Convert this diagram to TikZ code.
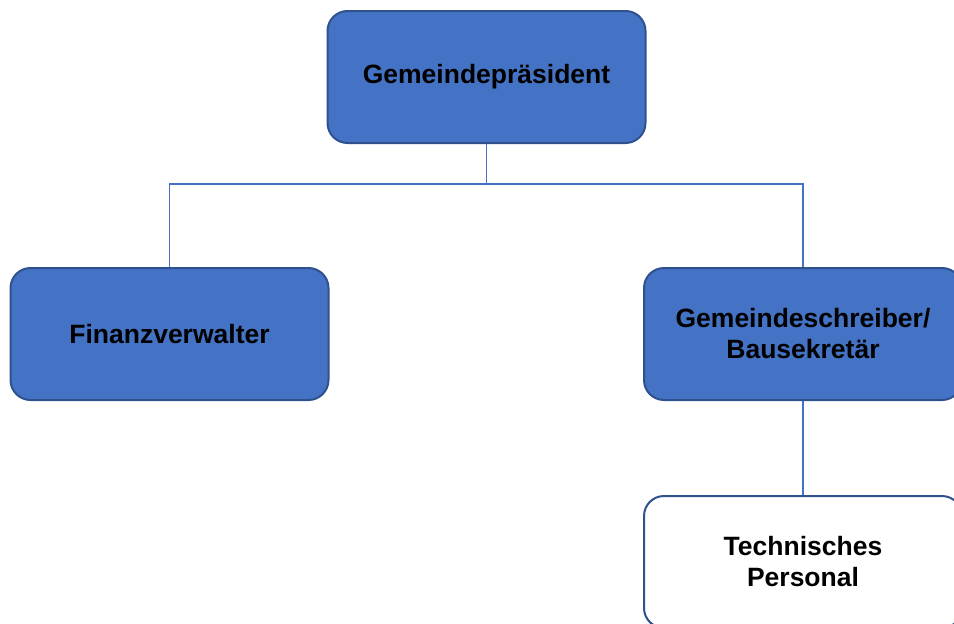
\documentclass[tikz,border=0pt]{standalone}
\usepackage{fontspec}
\setmainfont{Liberation Sans}
\definecolor{boxfill}{HTML}{4472C4}
\definecolor{boxline}{HTML}{2F528F}
\definecolor{conn}{HTML}{4472C4}
\begin{document}
\begin{tikzpicture}[x=1pt,y=-1pt,
  orgbox/.style={draw=boxline, line width=2pt, rounded corners=20pt, fill=boxfill,
    minimum width=318pt, minimum height=132pt, inner sep=0pt, align=center,
    font=\fontsize{26.5}{31}\selectfont\bfseries},
  whitebox/.style={orgbox, fill=white},
  link/.style={draw=conn, line width=1.2pt}]
\useasboundingbox (0,0) rectangle (954,624);
\clip (0,0) rectangle (954,624);
\node[orgbox] (pres) at (486.5,77) {Gemeindepräsident};
\node[orgbox] (fin) at (169.5,334) {Finanzverwalter};
\node[orgbox] (schr) at (803,334) {Gemeindeschreiber/\\Bausekretär};
\node[whitebox] (tech) at (803,562) {Technisches\\Personal};
\coordinate (bus) at (486.5,184);
\draw[link] (pres.south) -- (bus) -| (fin.north);
\draw[link] (bus) -| (schr.north);
\draw[link] (schr.south) -- (tech.north);
\end{tikzpicture}
\end{document}
